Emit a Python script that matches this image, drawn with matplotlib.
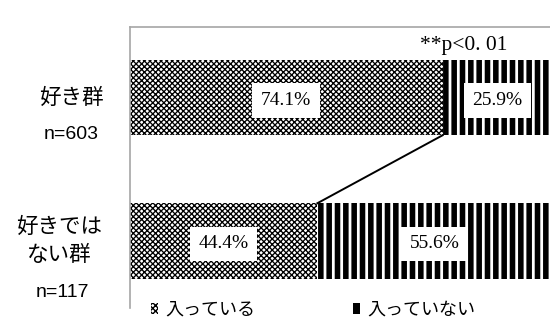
import matplotlib
matplotlib.use("Agg")
import matplotlib.pyplot as plt
from matplotlib.patches import Patch

# data
groups = ["好き群", "好きでは\nない群"]
counts = ["n=603", "n=117"]
inside = [74.1, 44.4]      # 入っている
outside = [25.9, 55.6]     # 入っていない
series_names = ["入っている", "入っていない"]
sig_text = "**p<0. 01"

jp = ["Noto Sans CJK JP", "DejaVu Sans"]
serif = ["Liberation Serif", "DejaVu Serif"]
narrow = ["Liberation Sans Narrow", "Liberation Sans", "DejaVu Sans"]

fig = plt.figure(figsize=(5.5, 3.26), dpi=100)
ax = fig.add_axes([130 / 550, 1 - 308 / 326, 422 / 550, 281 / 326])

ypos = list(range(len(groups)))
h = 0.526
CHECK = dict(facecolor="white", edgecolor="black", linewidth=0, hatch="xxxxxx")
STRIPE = dict(facecolor="white", edgecolor="black", linewidth=0, hatch="||")

with plt.rc_context({"hatch.linewidth": 0.95}):
    b1 = ax.barh(ypos, inside, height=h, **CHECK)
    h1 = Patch(**CHECK)
with plt.rc_context({"hatch.linewidth": 4.0}):
    b2 = ax.barh(ypos, outside, left=inside, height=h, **STRIPE)
    h2 = Patch(facecolor="black", edgecolor="black", linewidth=0)

# value labels in white boxes
for i in ypos:
    for left, w in ((0, inside[i]), (inside[i], outside[i])):
        ax.text(left + w / 2, i + 0.02, f"{w:.1f}%", ha="center", va="center",
                fontsize=14, family=serif,
                bbox=dict(boxstyle="square,pad=0.45", fc="white", ec="none"))

# connector between the two boundaries
ax.plot([inside[0], inside[1]], [ypos[0] + h / 2, ypos[1] - h / 2],
        color="black", lw=1.4)

ax.text(89.5, -0.36, sig_text, ha="right", va="center", fontsize=15.5,
        family=serif)

# category labels
tr = ax.get_yaxis_transform()
name_x = [-0.14, -0.168]
n_x = [-0.14, -0.161]
n_off = [0.26, 0.36]
for i in ypos:
    ax.text(name_x[i], i, groups[i], transform=tr, ha="center", va="center",
            fontsize=15.5, family=jp, linespacing=1.35)
    ax.text(n_x[i], i + n_off[i], counts[i], transform=tr, ha="center",
            va="center", fontsize=14, family=narrow)

ax.set_xlim(0, 100)
ax.set_ylim(1.467, -0.491)
ax.set_xticks([])
ax.set_yticks([])
for s in ("right", "bottom"):
    ax.spines[s].set_visible(False)
for s in ("left", "top"):
    ax.spines[s].set_color("#a6a6a6")
    ax.spines[s].set_linewidth(1.2)

fig.legend([h1, h2], series_names, loc="center left",
           bbox_to_anchor=(151 / 550, 1 - 310 / 326), ncol=2, frameon=False,
           borderpad=0, borderaxespad=0, handlelength=0.4, handleheight=0.6,
           handletextpad=0.4, columnspacing=5.4, prop={"family": jp, "size": 13})

fig.savefig("out.png", dpi=100)
